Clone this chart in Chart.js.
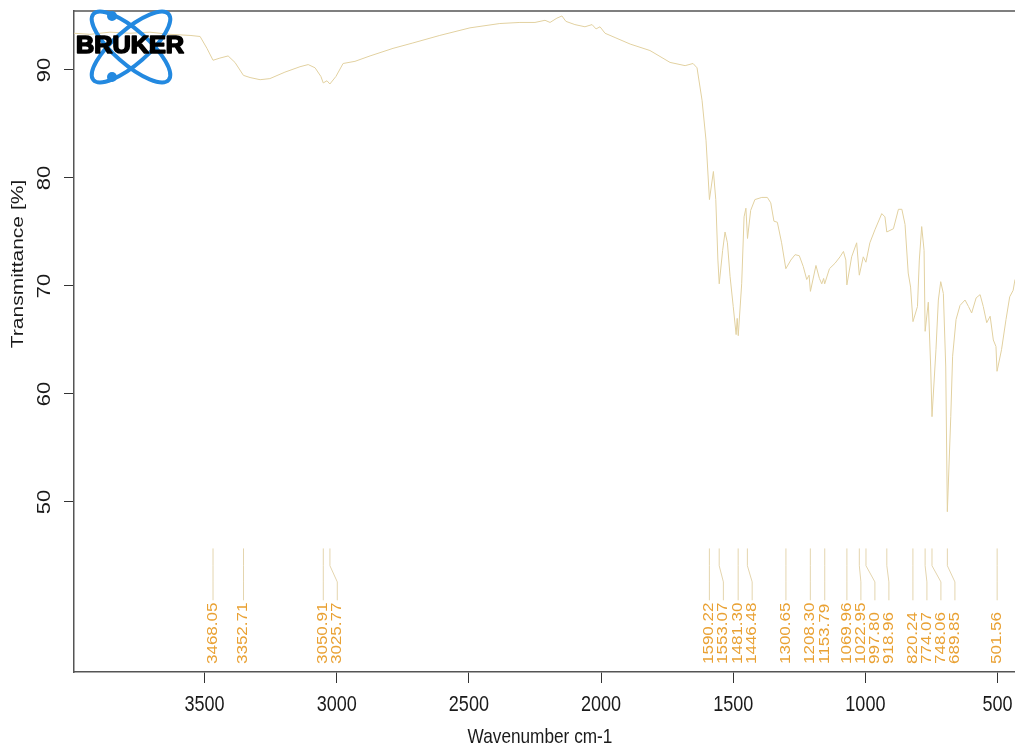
<!DOCTYPE html>
<html>
<head>
<meta charset="utf-8">
<title>IR spectrum</title>
<script src="https://cdn.jsdelivr.net/npm/chart.js@4/dist/chart.umd.min.js"></script>
<style>
  html, body { margin: 0; padding: 0; background: #fff; overflow: hidden; }
  #wrap { width: 1015px; height: 748px; position: relative; }
</style>
</head>
<body>
<div id="wrap"><canvas id="ir" width="1015" height="748"></canvas></div>
<script>
// Spectrum trace: wavenumber (cm-1) and transmittance (%)
const wavenumber = [
  3994, 3934, 3858, 3782, 3707, 3631, 3555, 3517, 3491, 3468,
  3442, 3411, 3385, 3353, 3328, 3290, 3253, 3196, 3139, 3108,
  3082, 3060, 3051, 3037, 3026, 3003, 2976, 2931, 2874, 2787,
  2712, 2610, 2496, 2383, 2307, 2250, 2212, 2193, 2167, 2148,
  2133, 2099, 2061, 2034, 2019, 2004, 1985, 1947, 1890, 1815,
  1739, 1682, 1652, 1637, 1618, 1603, 1590, 1575, 1566, 1558,
  1553, 1540, 1531, 1522, 1512, 1500, 1489, 1485, 1481, 1468,
  1459, 1452, 1446, 1434, 1418, 1392, 1371, 1358, 1346, 1333,
  1317, 1301, 1282, 1266, 1250, 1235, 1222, 1213, 1208, 1187,
  1174, 1165, 1158, 1154, 1136, 1115, 1096, 1083, 1074, 1070,
  1052, 1033, 1023, 1008, 998, 983, 964, 938, 926, 919,
  894, 875, 862, 850, 838, 829, 820, 803, 796, 787,
  778, 774, 762, 753, 748, 733, 724, 715, 705, 696,
  690, 677, 670, 657, 642, 623, 610, 598, 581, 566,
  554, 541, 528, 516, 506, 502, 485, 468, 454, 441, 434
];
const transmittance = [
  93.4, 93.3, 93.5, 93.4, 93.5, 93.3, 93.2, 93.1, 92.0, 90.9,
  91.1, 91.3, 90.7, 89.5, 89.3, 89.1, 89.2, 89.8, 90.3, 90.5,
  90.2, 89.4, 88.8, 89.0, 88.7, 89.4, 90.6, 90.8, 91.3, 92.0,
  92.5, 93.2, 93.9, 94.3, 94.4, 94.4, 94.6, 94.4, 94.8, 95.0,
  94.5, 94.2, 94.0, 94.2, 93.8, 94.0, 93.4, 93.0, 92.4, 91.8,
  90.7, 90.4, 90.6, 90.2, 87.2, 83.5, 78.0, 80.6, 78.0, 72.4,
  70.2, 73.3, 75.0, 74.0, 70.9, 68.1, 65.5, 67.0, 65.4, 70.2,
  76.4, 77.2, 74.4, 77.0, 78.0, 78.2, 78.2, 77.7, 76.0, 75.9,
  74.0, 71.6, 72.4, 72.9, 72.8, 71.8, 70.6, 71.0, 69.5, 71.9,
  70.7, 70.2, 70.7, 70.2, 71.6, 72.1, 72.7, 73.2, 72.4, 70.1,
  72.7, 74.0, 71.0, 72.7, 72.2, 74.0, 75.2, 76.7, 76.4, 75.0,
  75.3, 77.1, 77.1, 75.7, 71.2, 69.9, 66.7, 68.1, 72.4, 75.5,
  73.3, 65.8, 68.5, 62.5, 57.9, 64.1, 68.7, 70.4, 69.3, 62.5,
  49.1, 57.9, 63.5, 66.9, 68.2, 68.7, 68.1, 67.5, 68.9, 69.2,
  68.1, 66.6, 67.2, 65.0, 64.4, 62.1, 64.1, 66.9, 69.0, 69.6, 70.6
];

// Picked peak positions (cm-1)
const peakPositions = [
  3468.05, 3352.71, 3050.91, 3025.77, 1590.22, 1553.07, 1481.30, 1446.48,
  1300.65, 1208.30, 1153.79, 1069.96, 1022.95, 997.80, 918.96, 820.24,
  774.07, 748.06, 689.85, 501.56
];

// Axis ticks
const xTicks = [3500, 3000, 2500, 2000, 1500, 1000, 500];
const yTicks = [50, 60, 70, 80, 90];

const X_TITLE = 'Wavenumber cm-1';
const Y_TITLE = 'Transmittance [%]';

// ---- drawing helpers ----
const FONT = '"Liberation Sans", Arial, Helvetica, sans-serif';
const SQUEEZE = 0.82;        // horizontal squeeze applied to glyphs

function drawText(ctx, s, x, y, size, opts) {
  const o = Object.assign({ rotate: false, align: 'center', color: '#1a1a1a', weight: 'normal' }, opts || {});
  ctx.save();
  ctx.translate(x, y);
  if (o.rotate) { ctx.rotate(-Math.PI / 2); ctx.scale(1, SQUEEZE); }
  else { ctx.scale(SQUEEZE, 1); }
  ctx.font = o.weight + ' ' + size + 'px ' + FONT;
  ctx.textAlign = o.align;
  ctx.textBaseline = 'middle';
  ctx.fillStyle = o.color;
  ctx.fillText(s, 0, 0);
  ctx.restore();
}

// Leader geometry for peak labels, in transmittance units
const LEADER_TOP = 45.7, LEADER_BEND1 = 44.1, LEADER_BEND2 = 42.6, LEADER_END = 40.9;
const LABEL_START = 35.0;
const LABEL_GAP = 14;        // minimum pixel spacing between neighbouring labels

const decorations = {
  id: 'decorations',
  afterDatasetsDraw(chart) {
    const ctx = chart.ctx;
    const xs = chart.scales.x, ys = chart.scales.y;
    const area = chart.chartArea;

    // top edge of the plot frame
    ctx.save();
    ctx.strokeStyle = '#555';
    ctx.lineWidth = 1.5;
    ctx.beginPath();
    ctx.moveTo(area.left, area.top);
    ctx.lineTo(area.right, area.top);
    ctx.stroke();
    ctx.restore();

    // peak leaders and labels, spread apart so labels do not collide
    const peaks = peakPositions.map(w => ({ w, px: xs.getPixelForValue(w) }))
      .sort((a, b) => a.px - b.px);
    let prev = -Infinity;
    peaks.forEach(p => { p.lx = Math.max(p.px, prev + LABEL_GAP); prev = p.lx; });

    const yTop = ys.getPixelForValue(LEADER_TOP);
    const yB1 = ys.getPixelForValue(LEADER_BEND1);
    const yB2 = ys.getPixelForValue(LEADER_BEND2);
    const yEnd = ys.getPixelForValue(LEADER_END);
    const yLab = ys.getPixelForValue(LABEL_START);

    ctx.save();
    ctx.strokeStyle = '#E4D5AE';
    ctx.lineWidth = 1;
    peaks.forEach(p => {
      ctx.beginPath();
      ctx.moveTo(p.px, yTop);
      ctx.lineTo(p.px, yB1);
      ctx.lineTo(p.lx, yB2);
      ctx.lineTo(p.lx, yEnd);
      ctx.stroke();
    });
    ctx.restore();
    peaks.forEach(p => {
      drawText(ctx, p.w.toFixed(2), p.lx, yLab, 17, { rotate: true, align: 'left', color: '#E9A133' });
    });

    // tick labels and titles
    xTicks.forEach(v => drawText(ctx, String(v), xs.getPixelForValue(v), 705, 22));
    yTicks.forEach(v => drawText(ctx, String(v), 45, ys.getPixelForValue(v), 22, { rotate: true }));
    drawText(ctx, X_TITLE, 540, 737, 21);
    drawText(ctx, Y_TITLE, 18, 264, 21, { rotate: true });

    // instrument logo
    ctx.save();
    ctx.strokeStyle = '#2389E0';
    ctx.fillStyle = '#2389E0';
    ctx.lineWidth = 4;
    [0.72, -0.72].forEach(a => {
      ctx.beginPath();
      ctx.ellipse(131, 47, 50, 17, a, 0, Math.PI * 2);
      ctx.stroke();
    });
    [[112, 16], [112, 77]].forEach(([cx, cy]) => {
      ctx.beginPath();
      ctx.arc(cx, cy, 5, 0, Math.PI * 2);
      ctx.fill();
    });
    ctx.restore();
    ctx.save();
    ctx.font = 'bold 23px ' + FONT;
    const w = ctx.measureText('BRUKER').width;
    ctx.translate(76, 47);
    ctx.scale(108 / w, 1);
    ctx.fillStyle = '#000';
    ctx.strokeStyle = '#000';
    ctx.lineWidth = 1.6;
    ctx.lineJoin = 'round';
    ctx.textAlign = 'left';
    ctx.textBaseline = 'middle';
    ctx.strokeText('BRUKER', 0, 0);
    ctx.fillText('BRUKER', 0, 0);
    ctx.restore();
  }
};

const points = wavenumber.map((w, i) => ({ x: w, y: transmittance[i] }));

new Chart(document.getElementById('ir'), {
  type: 'scatter',
  data: {
    datasets: [{
      data: points,
      showLine: true,
      borderColor: '#E2D1A0',
      borderWidth: 1,
      pointRadius: 0,
      tension: 0,
      fill: false
    }]
  },
  options: {
    responsive: false,
    animation: false,
    devicePixelRatio: 1,
    layout: { padding: { left: 0, top: 11, right: 0, bottom: 0 } },
    plugins: { legend: { display: false }, tooltip: { enabled: false } },
    scales: {
      x: {
        type: 'linear',
        reverse: true,
        min: 434,
        max: 3994,
        afterBuildTicks: s => { s.ticks = xTicks.map(v => ({ value: v })); },
        afterFit: s => { s.height = 76; },
        ticks: { display: false },
        grid: { display: true, drawOnChartArea: false, drawTicks: true, tickLength: 11, color: '#333', lineWidth: 1 },
        border: { display: true, color: '#555', width: 1.5 }
      },
      y: {
        type: 'linear',
        min: 34.26,
        max: 95.46,
        afterBuildTicks: s => { s.ticks = yTicks.map(v => ({ value: v })); },
        afterFit: s => { s.width = 74; },
        ticks: { display: false },
        grid: { display: true, drawOnChartArea: false, drawTicks: true, tickLength: 10, color: '#333', lineWidth: 1 },
        border: { display: true, color: '#555', width: 1.5 }
      }
    }
  },
  plugins: [decorations]
});
</script>
</body>
</html>
